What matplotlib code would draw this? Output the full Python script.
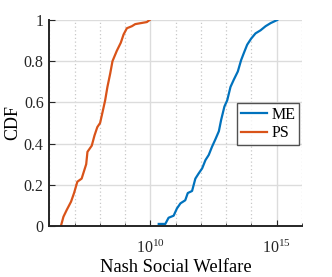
import matplotlib
matplotlib.use("Agg")
import matplotlib.pyplot as plt
import numpy as np
from matplotlib.ticker import NullFormatter, FixedLocator

plt.rcParams['font.family'] = ['Liberation Serif', 'DejaVu Serif']
plt.rcParams['mathtext.fontset'] = 'custom'
plt.rcParams['mathtext.rm'] = 'Liberation Serif'
plt.rcParams['mathtext.it'] = 'Liberation Serif:italic'
plt.rcParams['mathtext.bf'] = 'Liberation Serif:bold'

# Data (log10 of Nash social welfare, CDF)
ps_log = [6.46, 6.56, 6.69, 6.86, 6.98, 7.11, 7.28, 7.46, 7.51, 7.68, 7.79, 7.90, 8.01,
          8.12, 8.21, 8.30, 8.41, 8.50, 8.67, 8.83, 8.94, 9.07, 9.27, 9.40, 9.86, 9.97]
ps_cdf = [0.0, 0.045, 0.078, 0.118, 0.16, 0.215, 0.23, 0.30, 0.36, 0.39, 0.44, 0.48, 0.50,
          0.56, 0.61, 0.675, 0.74, 0.80, 0.85, 0.89, 0.93, 0.96, 0.97, 0.98, 0.99, 1.0]
me_log = [10.33, 10.59, 10.72, 10.92, 11.05, 11.19, 11.38, 11.48, 11.65, 11.78, 11.91,
          12.05, 12.18, 12.31, 12.44, 12.57, 12.71, 12.80, 12.93, 13.04, 13.17, 13.30,
          13.46, 13.59, 13.70, 13.83, 13.99, 14.16, 14.36, 14.56, 14.76, 15.02]
me_cdf = [0.01, 0.01, 0.04, 0.05, 0.085, 0.11, 0.125, 0.16, 0.17, 0.23, 0.255, 0.28,
          0.32, 0.345, 0.385, 0.42, 0.46, 0.515, 0.58, 0.61, 0.675, 0.71, 0.75, 0.805,
          0.84, 0.88, 0.91, 0.935, 0.95, 0.97, 0.985, 1.0]
series_names = ['ME', 'PS']
series_colors = ['#0072BD', '#D95319']

fig = plt.figure(figsize=(3.32, 2.77), dpi=100)
ax = fig.add_axes([49.3/332, 1-226/277, (302-49.3)/332, (226-20)/277])

ax.plot(10**np.array(me_log), me_cdf, color=series_colors[0], lw=1.6, label=series_names[0])
ax.plot(10**np.array(ps_log), ps_cdf, color=series_colors[1], lw=1.6, label=series_names[1])

ax.set_xscale('log')
ax.set_xlim(1e6, 1e16)
ax.set_ylim(0, 1)
ax.xaxis.set_major_locator(FixedLocator([1e10, 1e15]))
ax.xaxis.set_minor_locator(FixedLocator([10.0**k for k in range(6, 17) if k not in (10, 15)]))
ax.xaxis.set_minor_formatter(NullFormatter())
ax.set_yticks([0, 0.2, 0.4, 0.6, 0.8, 1])
ax.set_yticklabels(['0', '0.2', '0.4', '0.6', '0.8', '1'])

ax.grid(True, which='major', color='#dcdcdc', lw=1.0, ls='-')
ax.grid(True, which='minor', axis='x', color='#c8c8c8', lw=0.9, ls=(0, (1, 2)))
ax.set_axisbelow(True)

for s in ['top', 'right']:
    ax.spines[s].set_visible(False)
for s in ['left', 'bottom']:
    ax.spines[s].set_linewidth(1.4)
    ax.spines[s].set_color('#262626')

ax.tick_params(which='both', direction='in', labelsize=11.5, colors='#262626')
ax.tick_params(axis='x', which='major', length=4, pad=10)
ax.tick_params(axis='x', which='minor', length=2)
ax.tick_params(axis='y', length=4, pad=4)

ax.set_xlabel('Nash Social Welfare', fontsize=13.3, labelpad=1)
ax.set_ylabel('CDF', fontsize=13, labelpad=2)

leg = ax.legend(loc='upper left', bbox_to_anchor=((237-49.3)/252.7, 1-(103-20)/206),
                fontsize=11.5, frameon=True, fancybox=False, borderpad=0.25,
                handlelength=1.6, handletextpad=0.3, labelspacing=0.15, borderaxespad=0)
leg.get_frame().set_edgecolor('#262626')
leg.get_frame().set_linewidth(1.0)

fig.savefig('out.png', dpi=100)
